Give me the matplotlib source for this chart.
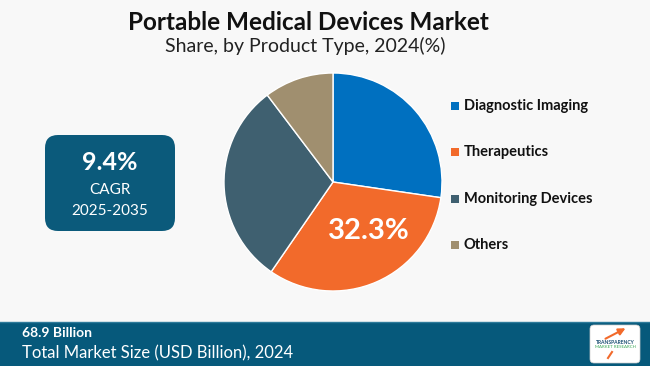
import matplotlib.pyplot as plt
from matplotlib.patches import FancyBboxPatch, Rectangle

# data
labels = ["Diagnostic Imaging", "Therapeutics", "Monitoring Devices", "Others"]
shares = [27.3, 32.3, 30.1, 10.3]
colors = ["#0070c0", "#f26a2b", "#3f6070", "#a08f6f"]

title = "Portable Medical Devices Market"
subtitle = "Share, by Product Type, 2024(%)"
cagr = "9.4%"
cagr_period = "2025-2035"
market_size = "68.9 Billion"
market_label = "Total Market Size (USD Billion), 2024"

W, H = 650, 366
fig = plt.figure(figsize=(W / 100, H / 100), dpi=100)
fig.patch.set_facecolor("#f8f8f8")

# overlay axes in pixel coords (y down)
bg = fig.add_axes([0, 0, 1, 1])
bg.set_xlim(0, W)
bg.set_ylim(H, 0)
bg.axis("off")

bg.text(308, 22, title, ha="center", va="center", fontsize=17.5, fontweight="bold",
        family="Lato", color="#111111")
bg.text(305, 46, subtitle, ha="center", va="center", fontsize=14,
        family="Lato", color="#222222")

# CAGR box
bg.add_patch(FancyBboxPatch((45, 135), 130, 96, boxstyle="round,pad=0,rounding_size=13",
                            fc="#0b5a7b", ec="none"))
bg.text(110, 162, cagr, ha="center", va="center", fontsize=18, fontweight="bold",
        family="Lato", color="white")
bg.text(110, 190, "CAGR", ha="center", va="center", fontsize=11, family="Lato", color="white")
bg.text(110, 211, cagr_period, ha="center", va="center", fontsize=11, family="Lato", color="white")

# bottom band
bg.add_patch(Rectangle((0, 322), W, H - 322, fc="#06597b", ec="none"))
bg.plot([0, W], [322, 322], color="#2d7a9a", lw=1)
bg.text(22, 333, market_size, ha="left", va="center", fontsize=10, fontweight="bold",
        family="Lato", color="white")
bg.text(22, 353, market_label, ha="left", va="center", fontsize=12, family="Lato", color="white")

# logo block
bg.add_patch(FancyBboxPatch((590, 325), 50, 38, boxstyle="round,pad=0,rounding_size=4",
                            fc="white", ec="#cccccc", lw=0.5))
bg.text(615, 342, "TRANSPARENCY", ha="center", va="center", fontsize=3.6, fontweight="bold",
        family="Lato", color="#1b4f72")
bg.text(615, 347, "MARKET RESEARCH", ha="center", va="center", fontsize=3.2,
        family="Lato", color="#3aa856")
bg.annotate("", xy=(628, 327), xytext=(603, 340),
            arrowprops=dict(arrowstyle="-|>", color="#f26a2b", lw=1.5))
bg.plot([608, 612], [358, 352], color="#f26a2b", lw=1.5)

# pie
cx, cy, r = 333, 182, 109
pax = fig.add_axes([(cx - r) / W, (H - cy - r) / H, 2 * r / W, 2 * r / H])
pax.pie(shares, colors=colors, startangle=90, counterclock=False,
        wedgeprops=dict(edgecolor="white", linewidth=1))
pax.set_xlim(-1, 1)
pax.set_ylim(-1, 1)
pax.set_aspect("equal")
pax.text(0.33, -0.45, f"{shares[1]}%", ha="center", va="center", fontsize=21,
         fontweight="bold", family="Lato", color="white")

# legend
leg_y = [106, 152, 199, 245]
for lab, col, y in zip(labels, colors, leg_y):
    bg.add_patch(Rectangle((451, y - 4.5), 8, 8, fc=col, ec="none"))
    bg.text(464, y, lab, ha="left", va="center", fontsize=10.5, fontweight="bold",
            family="Lato", color="#111111")

fig.savefig("out.png", dpi=100, facecolor=fig.get_facecolor())
